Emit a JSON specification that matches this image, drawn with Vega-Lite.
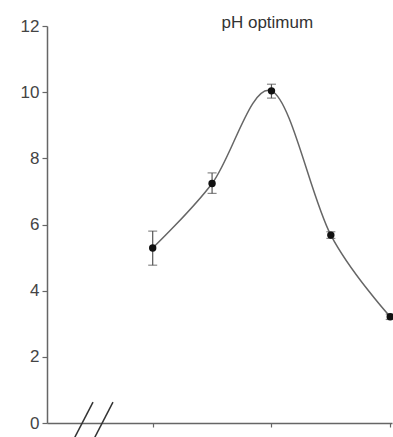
{
  "$schema": "https://vega.github.io/schema/vega-lite/v6.json",
  "autosize": {"type": "none"},
  "padding": {"left": 47, "top": 26, "right": 1, "bottom": 14},
  "width": 345,
  "height": 397,
  "config": {"view": {"stroke": null}},
  "datasets": {
    "ph": [
      {"pH": 5, "activity": 5.29, "lo": 4.77, "hi": 5.8},
      {"pH": 6, "activity": 7.24, "lo": 6.94, "hi": 7.56},
      {"pH": 7, "activity": 10.04, "lo": 9.82, "hi": 10.24},
      {"pH": 8, "activity": 5.68, "lo": 5.58, "hi": 5.78},
      {"pH": 9, "activity": 3.21, "lo": 3.13, "hi": 3.29}
    ],
    "brk": [
      {"x1": 3.995, "y1": 0.63, "x2": 3.683, "y2": -0.45},
      {"x1": 4.331, "y1": 0.63, "x2": 4.02, "y2": -0.45}
    ],
    "label": [
      {"x": 6.93, "y": 11.94, "text": "pH optimum"}
    ]
  },
  "layer": [
    {
      "data": {"name": "ph"},
      "mark": {"type": "line", "interpolate": "cardinal", "color": "#666", "strokeWidth": 1.5},
      "encoding": {
        "x": {"field": "pH", "type": "quantitative", "scale": {"domain": [3.22, 9.03], "nice": false, "zero": false},
          "axis": {"title": null, "values": [5, 7, 9], "labels": false, "tickSize": 4, "tickColor": "#666", "domainColor": "#666", "domainWidth": 1.5, "tickWidth": 1.2, "grid": false}},
        "y": {"field": "activity", "type": "quantitative", "scale": {"domain": [0, 12], "nice": false},
          "axis": {"title": null, "values": [0, 2, 4, 6, 8, 10, 12], "tickSize": 5, "tickColor": "#666", "domainColor": "#666", "domainWidth": 1.5, "tickWidth": 1.2, "grid": false, "labelFont": "Liberation Sans", "labelFontSize": 17, "labelColor": "#444", "labelPadding": 3}}
      }
    },
    {
      "data": {"name": "ph"},
      "mark": {"type": "rule", "color": "#555", "strokeWidth": 1.2},
      "encoding": {
        "x": {"field": "pH", "type": "quantitative"},
        "y": {"field": "lo", "type": "quantitative"},
        "y2": {"field": "hi"}
      }
    },
    {
      "data": {"name": "ph"},
      "mark": {"type": "tick", "color": "#555", "orient": "horizontal", "size": 9, "thickness": 1.2},
      "encoding": {
        "x": {"field": "pH", "type": "quantitative"},
        "y": {"field": "lo", "type": "quantitative"}
      }
    },
    {
      "data": {"name": "ph"},
      "mark": {"type": "tick", "color": "#555", "orient": "horizontal", "size": 9, "thickness": 1.2},
      "encoding": {
        "x": {"field": "pH", "type": "quantitative"},
        "y": {"field": "hi", "type": "quantitative"}
      }
    },
    {
      "data": {"name": "ph"},
      "mark": {"type": "point", "filled": true, "shape": "circle", "color": "#111", "size": 55, "opacity": 1},
      "encoding": {
        "x": {"field": "pH", "type": "quantitative"},
        "y": {"field": "activity", "type": "quantitative"}
      }
    },
    {
      "data": {"name": "brk"},
      "mark": {"type": "rule", "color": "#333", "strokeWidth": 1.5, "clip": false},
      "encoding": {
        "x": {"field": "x1", "type": "quantitative"},
        "y": {"field": "y1", "type": "quantitative"},
        "x2": {"field": "x2"},
        "y2": {"field": "y2"}
      }
    },
    {
      "data": {"name": "label"},
      "mark": {"type": "text", "font": "Liberation Sans", "fontSize": 17, "color": "#333", "align": "center", "baseline": "alphabetic"},
      "encoding": {
        "x": {"field": "x", "type": "quantitative"},
        "y": {"field": "y", "type": "quantitative"},
        "text": {"field": "text"}
      }
    }
  ]
}
